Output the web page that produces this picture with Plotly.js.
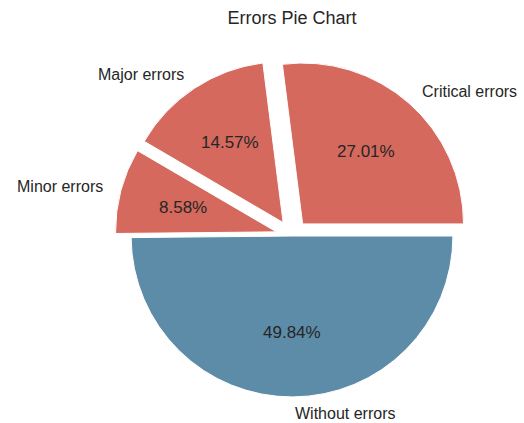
<!DOCTYPE html>
<html>
<head>
<meta charset="utf-8">
<script src="https://cdn.plot.ly/plotly-3.0.1.min.js"></script>
<style>html,body{margin:0;padding:0;background:#fff;}#chart{width:524px;height:423px;}</style>
</head>
<body>
<div id="chart"></div>
<script>
const categories = ['Critical errors', 'Major errors', 'Minor errors', 'Without errors'];
const percentages = [27.01, 14.57, 8.58, 49.84];
const percentLabels = ['27.01%', '14.57%', '8.58%', '49.84%'];
const sliceColors = ['#d5695d', '#d5695d', '#d5695d', '#5d8ca8'];
const pulls = [0.1, 0.1, 0.1, 0];

const FONT = 'Liberation Sans, Arial, sans-serif';
const TXT = '#262626';

// figure geometry (pixels)
const W = 524, H = 423;
const PIE_CX = 292, PIE_CY = 236, PIE_BOX = 354;

// first slice starts at 3 o'clock and slices go counterclockwise (matplotlib default)
const total = percentages.reduce((a, b) => a + b, 0);
const startRotation = 90 - percentages[0] / total * 360;

const slices = {
  type: 'pie',
  labels: categories,
  values: percentages,
  sort: false,
  direction: 'counterclockwise',
  rotation: startRotation,
  pull: pulls,
  domain: {
    x: [(PIE_CX - PIE_BOX / 2) / W, (PIE_CX + PIE_BOX / 2) / W],
    y: [1 - (PIE_CY + PIE_BOX / 2) / H, 1 - (PIE_CY - PIE_BOX / 2) / H]
  },
  marker: {colors: sliceColors, line: {color: '#ffffff', width: 1}},
  textinfo: 'none',
  hoverinfo: 'skip',
  showlegend: false
};

// hidden axes spanning the whole figure, measured in pie radii from the pie centre
const maxPull = Math.max(...pulls);
const R = PIE_BOX / 2 / (1 + maxPull);

const annotations = [];
let cum = 0;
percentages.forEach((v, i) => {
  const mid = (cum + v / 2) / total * 2 * Math.PI;
  cum += v;
  const c = Math.cos(mid), s = Math.sin(mid);
  const kPct = 0.6 + pulls[i];
  const kLab = 1.1 + pulls[i];
  annotations.push({
    x: kPct * c, y: kPct * s, xref: 'x', yref: 'y', text: percentLabels[i],
    showarrow: false, xanchor: 'center', yanchor: 'middle',
    font: {family: FONT, size: 17, color: TXT}
  });
  annotations.push({
    x: kLab * c, y: kLab * s, xref: 'x', yref: 'y', text: categories[i],
    showarrow: false, xanchor: c >= 0 ? 'left' : 'right', yanchor: 'middle',
    font: {family: FONT, size: 16, color: TXT}
  });
});

const layout = {
  width: W, height: H,
  margin: {l: 0, r: 0, t: 0, b: 0},
  paper_bgcolor: '#ffffff',
  plot_bgcolor: 'rgba(0,0,0,0)',
  xaxis: {range: [-PIE_CX / R, (W - PIE_CX) / R], visible: false, fixedrange: true},
  yaxis: {range: [-(H - PIE_CY) / R, PIE_CY / R], visible: false, fixedrange: true},
  annotations: annotations,
  title: {text: 'Errors Pie Chart', x: PIE_CX / W, xref: 'container', xanchor: 'center',
    y: 0.957, yref: 'container', yanchor: 'middle',
    font: {family: FONT, size: 18, color: TXT}}
};

Plotly.newPlot('chart', [slices], layout, {displayModeBar: false, staticPlot: true});
</script>
</body>
</html>
